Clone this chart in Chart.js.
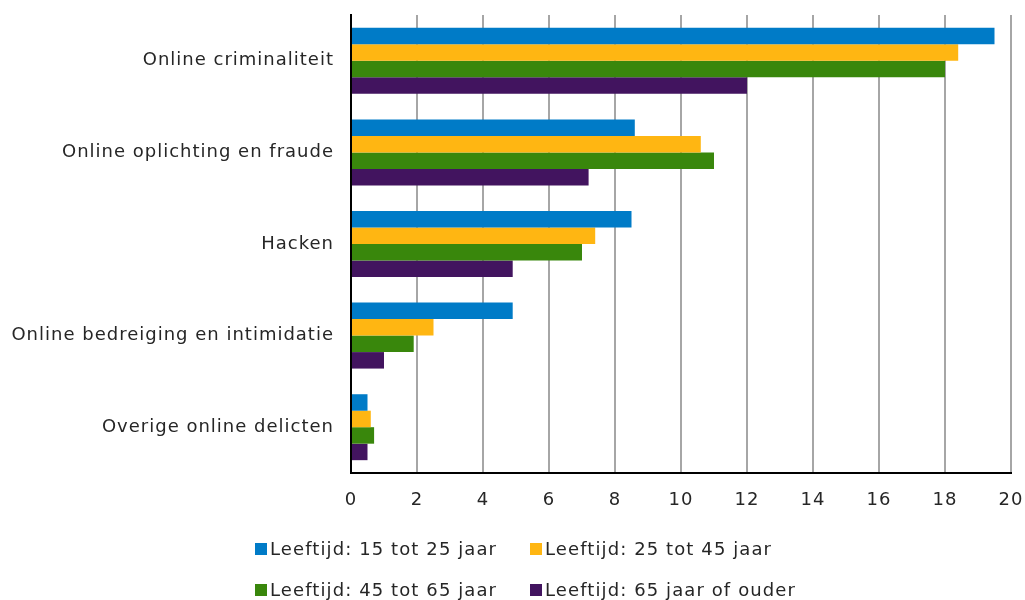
<!DOCTYPE html>
<html>
<head>
<meta charset="utf-8">
<script src="https://cdn.jsdelivr.net/npm/chart.js@4/dist/chart.umd.min.js"></script>
<style>
  html, body { margin: 0; padding: 0; background: #fff; }
  #wrap { position: relative; width: 1025px; height: 600px; }
  #c { position: absolute; left: 0; top: 0; }
  .lg { position: absolute; font-family: "DejaVu Sans", Verdana, sans-serif; font-size: 18px; color: #262626; white-space: nowrap; line-height: 20px; letter-spacing: 1.1px; }
  .lg .box { display: inline-block; width: 12px; height: 12px; margin-right: 3px; vertical-align: 0px; }
</style>
</head>
<body>
<div id="wrap">
  <canvas id="c" width="1025" height="600"></canvas>
  <div id="legend"></div>
</div>
<script>
const categories = [
  "Online criminaliteit",
  "Online oplichting en fraude",
  "Hacken",
  "Online bedreiging en intimidatie",
  "Overige online delicten"
];
const seriesNames = [
  "Leeftijd: 15 tot 25 jaar",
  "Leeftijd: 25 tot 45 jaar",
  "Leeftijd: 45 tot 65 jaar",
  "Leeftijd: 65 jaar of ouder"
];
const age15to25 = [19.5, 8.6, 8.5, 4.9, 0.5];
const age25to45 = [18.4, 10.6, 7.4, 2.5, 0.6];
const age45to65 = [18.0, 11.0, 7.0, 1.9, 0.7];
const age65plus = [12.0, 7.2, 4.9, 1.0, 0.5];
const xTicks = [0, 2, 4, 6, 8, 10, 12, 14, 16, 18, 20];

const colors = ["#007BC7", "#FFB612", "#39870C", "#42145F"];
const values = [age15to25, age25to45, age45to65, age65plus];

const datasets = seriesNames.map((name, i) => ({
  label: name,
  data: values[i],
  backgroundColor: colors[i],
  borderWidth: 0,
  categoryPercentage: 0.72,
  barPercentage: 1.0
}));

const FONT = { family: "'DejaVu Sans', Verdana, sans-serif", size: 18 };

const spacingPlugin = {
  id: 'spacing',
  beforeInit(chart) { chart.ctx.letterSpacing = '1px'; },
  beforeLayout(chart) { chart.ctx.letterSpacing = '1px'; },
  beforeDraw(chart) { chart.ctx.letterSpacing = '1px'; }
};

new Chart(document.getElementById('c'), {
  type: 'bar',
  data: { labels: categories, datasets },
  plugins: [spacingPlugin],
  options: {
    indexAxis: 'y',
    responsive: false,
    animation: false,
    layout: { padding: { top: 15, right: 14, left: 0, bottom: 0 } },
    plugins: { legend: { display: false }, tooltip: { enabled: false } },
    scales: {
      x: {
        min: 0, max: 20,
        afterBuildTicks(scale) { scale.ticks = xTicks.map(v => ({ value: v })); },
        afterFit(scale) { scale.height = 127; scale.paddingLeft = 0; scale.paddingRight = 0; },
        grid: {
          color: ctx => (ctx.tick && ctx.tick.value === 0) ? 'rgba(0,0,0,0)' : '#a6a6a6',
          lineWidth: 2,
          drawTicks: false
        },
        border: { display: true, color: '#000', width: 2 },
        ticks: { color: '#262626', font: FONT, padding: 17, maxRotation: 0 }
      },
      y: {
        afterFit(scale) { scale.width = 351; scale.paddingTop = 0; scale.paddingBottom = 0; },
        grid: { display: false, drawTicks: false },
        border: { display: true, color: '#000', width: 2 },
        ticks: { color: '#262626', font: FONT, padding: 17 }
      }
    }
  }
});

const legend = document.getElementById('legend');
const pos = [[255, 539], [530, 539], [255, 580], [530, 580]];
seriesNames.forEach((name, i) => {
  const d = document.createElement('div');
  d.className = 'lg';
  d.style.left = pos[i][0] + 'px';
  d.style.top = pos[i][1] + 'px';
  const b = document.createElement('span');
  b.className = 'box';
  b.style.background = colors[i];
  d.appendChild(b);
  d.appendChild(document.createTextNode(name));
  legend.appendChild(d);
});
</script>
</body>
</html>
